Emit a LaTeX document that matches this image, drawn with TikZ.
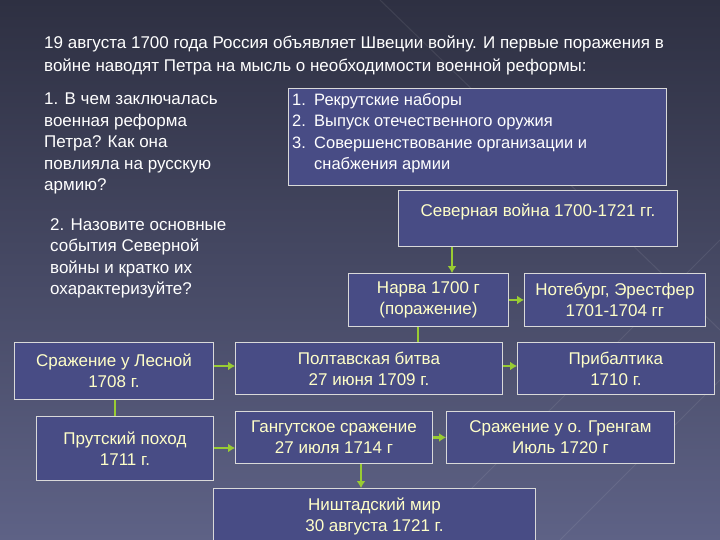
\documentclass[tikz,border=0pt]{standalone}
\usepackage{fontspec}
\setmainfont{Liberation Sans}
\begin{document}
\begin{tikzpicture}[x=1pt,y=-1pt,
  bx/.style={draw=white!85!black,line width=0.9pt,fill=boxc,text=ylw,align=center,font=\fontsize{17}{21}\selectfont,inner sep=2pt},
  ar/.style={draw=grn,line width=2.2pt,-{Latex[length=7pt,width=9pt]}},
  ln/.style={draw=grn,line width=2.2pt},
  tx/.style={text=white,align=left,anchor=north west,font=\fontsize{17}{22}\selectfont,inner sep=0pt}]
\usetikzlibrary{arrows.meta}
\definecolor{boxc}{HTML}{484C85}
\definecolor{ylw}{HTML}{FFFFC8}
\definecolor{grn}{HTML}{99CC33}
\definecolor{bgt}{HTML}{2E3042}
\definecolor{bgb}{HTML}{5E6286}
\useasboundingbox (0,0) rectangle (720,540);
\shade[top color=bgt,bottom color=bgb] (0,0) rectangle (720,540);
\draw[white,opacity=0.08,line width=1pt] (420,540) -- (720,240) (560,540) -- (720,380) (380,0) -- (720,330);
\node[tx,font=\fontsize{17}{23}\selectfont] (t0) at (44,36) {19 августа 1700 года Россия объявляет Швеции войну. И первые поражения в\\войне наводят Петра на мысль о необходимости военной реформы:};
\node[tx,font=\fontsize{17}{21.5}\selectfont] (q1) at (44,93) {1. В чем заключалась\\военная реформа\\Петра? Как она\\повлияла на  русскую\\армию?};
\node[tx,font=\fontsize{17}{21.5}\selectfont] (q2) at (50,218) {2. Назовите основные\\события Северной\\войны и кратко их\\охарактеризуйте?};
\path[draw=white!85!black,line width=0.9pt,fill=boxc] (288,88) rectangle (666,185);
\node[tx,text=white,font=\fontsize{16.5}{21.5}\selectfont] (lst) at (292,93) {1.\enspace Рекрутские наборы\\2.\enspace Выпуск отечественного оружия\\3.\enspace Совершенствование организации и\\\phantom{3.\enspace }снабжения армии};
\node[bx,minimum width=279,minimum height=56,anchor=north west,text depth=16pt] (sev) at (398,190) {Северная война 1700-1721 гг.};
\node[bx,minimum width=160,minimum height=53,anchor=north west] (nar) at (348,273) {Нарва 1700 г\\(поражение)};
\node[bx,minimum width=181,minimum height=53,anchor=north west] (not) at (524,273) {Нотебург, Эрестфер\\1701-1704 гг};
\node[bx,minimum width=199,minimum height=57,anchor=north west] (les) at (14,342) {Сражение у Лесной\\1708 г.};
\node[bx,minimum width=267,minimum height=52,anchor=north west] (pol) at (235,342) {Полтавская битва\\27 июня 1709 г.};
\node[bx,minimum width=197,minimum height=52,anchor=north west] (pri) at (517,342) {Прибалтика\\1710 г.};
\node[bx,minimum width=177,minimum height=64,anchor=north west] (pru) at (36,416) {Прутский поход\\1711 г.};
\node[bx,minimum width=197,minimum height=52,anchor=north west] (gan) at (235,411) {Гангутское сражение\\27 июля 1714 г};
\node[bx,minimum width=228,minimum height=52,anchor=north west] (gre) at (446,411) {Сражение у о. Гренгам\\Июль 1720 г};
\node[bx,minimum width=322,minimum height=56,anchor=north west] (nis) at (213,488) {Ништадский мир\\30 августа 1721 г.};
\draw[ar] (sev.south -| 452,0) -- (nar.north -| 452,0);
\draw[ar] (nar.east) -- (not.west);
\draw[ln] (nar.south -| 418,0) -- (pol.north -| 418,0);
\draw[ar] (les.east |- 0,366) -- (pol.west |- 0,366);
\draw[ar] (pol.east |- 0,366) -- (pri.west |- 0,366);
\draw[ln] (les.south -| 115,0) -- (pru.north -| 115,0);
\draw[ar] (pru.east |- 0,448) -- (gan.west |- 0,448);
\draw[ar] (gan.east) -- (gre.west);
\draw[ar] (gan.south -| 361,0) -- (nis.north -| 361,0);
\end{tikzpicture}
\end{document}
